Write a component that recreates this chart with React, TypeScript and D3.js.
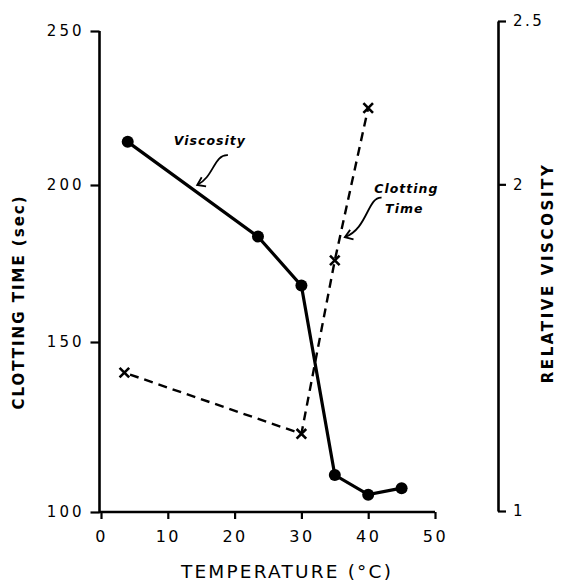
import React, { useEffect, useRef } from 'react';
import * as d3 from 'd3';

// ---- data ----
const tempTicks = [0, 10, 20, 30, 40, 50];
const clotTicks = [100, 150, 200, 250];
const viscTicks = [1, 2, 2.5];
const viscTemp = [4, 23.5, 30, 35, 40, 45];
const viscValue = [2.13, 1.84, 1.69, 1.11, 1.05, 1.07];
const clotTemp = [3.5, 30, 35, 40];
const clotValue = [141, 123, 176, 225];
// annotations: [temp, clotting-time] for label and arrow start/tip
const viscLabel = { text: 'Viscosity', t: 16.3, c: 213 };
const viscArrow = { t0: 19.0, c0: 209.7, t1: 14.4, c1: 200 };
const clotLabel = { lines: ['Clotting', 'Time'], t: 45.7, c: 197.3 };
const clotArrow = { t0: 42.0, c0: 196.0, t1: 36.5, c1: 183.4 };

const W = 564;
const H = 583;

export default function App() {
  const ref = useRef<SVGSVGElement | null>(null);

  useEffect(() => {
    const svg = d3.select(ref.current!);
    svg.selectAll('*').remove();

    const x = d3.scaleLinear().domain([0, 50]).range([101, 435]);
    // hand-drawn axis: tick spacing is not uniform
    const yL = d3.scaleLinear().domain(clotTicks).range([512, 342, 185, 31]);
    const yR = d3.scaleLinear().domain([1, 2.5]).range([511, 21]);

    const tickFont = 'DejaVu Sans, sans-serif';

    // left axis
    const gL = svg.append('g').attr('transform', 'translate(99.5,0)')
      .call(d3.axisLeft(yL).tickValues(clotTicks).tickSize(9).tickSizeOuter(0).tickPadding(6).tickFormat(d3.format('d')));
    // bottom axis
    const gB = svg.append('g').attr('transform', 'translate(0,512)')
      .call(d3.axisBottom(x).tickValues(tempTicks).tickSize(7).tickSizeOuter(0).tickPadding(12).tickFormat(d3.format('d')));
    // right axis
    const gR = svg.append('g').attr('transform', 'translate(498,0)')
      .call(d3.axisRight(yR).tickValues(viscTicks).tickSize(8).tickSizeOuter(0).tickPadding(7).tickFormat((d: any) => String(d)));

    [gL, gB, gR].forEach((g) => {
      g.selectAll('path.domain').attr('stroke', '#000').attr('stroke-width', 2.6);
      g.selectAll('.tick line').attr('stroke', '#000').attr('stroke-width', 2.2);
      g.selectAll('.tick text')
        .attr('fill', '#000')
        .style('font-family', tickFont)
        .style('font-size', '15px')
        .style('letter-spacing', '3px');
    });
    gB.selectAll('.tick text').style('font-size', '16px').style('letter-spacing', '2.5px');
    gL.select('path.domain').attr('d', `M0,${yL(100) + 1}V${yL(250)}`);
    gB.select('path.domain').attr('d', `M${-2 + x(0)},0H${x(50)}`);
    gR.selectAll('.tick text').style('font-size', '15px').style('letter-spacing', '2.5px');

    // axis titles
    svg.append('text')
      .attr('x', 287).attr('y', 578)
      .attr('text-anchor', 'middle')
      .style('font-family', tickFont).style('font-size', '18.5px').style('letter-spacing', '2.2px')
      .text('TEMPERATURE (°C)');
    svg.append('text')
      .attr('transform', 'translate(24,302) rotate(-90)')
      .attr('text-anchor', 'middle')
      .style('font-family', tickFont).style('font-size', '15px').style('font-weight', 'bold').style('letter-spacing', '2px')
      .text('CLOTTING TIME (sec)');
    svg.append('text')
      .attr('transform', 'translate(553,273) rotate(-90)')
      .attr('text-anchor', 'middle')
      .style('font-family', tickFont).style('font-size', '15px').style('font-weight', 'bold').style('letter-spacing', '2.6px')
      .text('RELATIVE VISCOSITY');

    // viscosity series
    const viscPts = viscTemp.map((t, i) => [x(t), yR(viscValue[i])] as [number, number]);
    svg.append('path')
      .attr('d', d3.line()(viscPts)!)
      .attr('fill', 'none').attr('stroke', '#000').attr('stroke-width', 3.2);
    svg.selectAll('circle.v').data(viscPts).enter().append('circle')
      .attr('class', 'v')
      .attr('cx', (d) => d[0]).attr('cy', (d) => d[1]).attr('r', 6).attr('fill', '#000');

    // clotting series
    const clotPts = clotTemp.map((t, i) => [x(t), yL(clotValue[i])] as [number, number]);
    svg.append('path')
      .attr('d', d3.line()(clotPts)!)
      .attr('fill', 'none').attr('stroke', '#000').attr('stroke-width', 2.4)
      .attr('stroke-dasharray', '9,6').attr('stroke-dashoffset', -6);
    const s = 4.8;
    svg.selectAll('path.x').data(clotPts).enter().append('path')
      .attr('class', 'x')
      .attr('d', (d) => `M${d[0] - s},${d[1] - s}L${d[0] + s},${d[1] + s}M${d[0] + s},${d[1] - s}L${d[0] - s},${d[1] + s}`)
      .attr('stroke', '#000').attr('stroke-width', 2.6).attr('fill', 'none');

    // annotations
    const annFont = 'DejaVu Sans, sans-serif';
    svg.append('text')
      .attr('x', x(viscLabel.t)).attr('y', yL(viscLabel.c))
      .attr('text-anchor', 'middle')
      .style('font-family', annFont).style('font-size', '12.5px').style('font-style', 'italic').style('font-weight', 'bold')
      .style('letter-spacing', '1px')
      .text(viscLabel.text);
    clotLabel.lines.forEach((ln, i) => {
      svg.append('text')
        .attr('x', x(clotLabel.t) + (i === 1 ? -2 : 0)).attr('y', yL(clotLabel.c) + i * 20)
        .attr('text-anchor', 'middle')
        .style('font-family', annFont).style('font-size', '12.5px').style('font-style', 'italic').style('font-weight', 'bold')
        .style('letter-spacing', '1px')
        .text(ln);
    });

    const drawArrow = (a: { t0: number; c0: number; t1: number; c1: number }) => {
      const x0 = x(a.t0), y0 = yL(a.c0), x1 = x(a.t1), y1 = yL(a.c1);
      const c1x = x0 - 14, c1y = y0 - 1;
      const c2x = x0 - 14, c2y = y1 - 8;
      const p = d3.path();
      p.moveTo(x0, y0);
      p.bezierCurveTo(c1x, c1y, c2x, c2y, x1, y1);
      svg.append('path').attr('d', p.toString())
        .attr('fill', 'none').attr('stroke', '#000').attr('stroke-width', 1.8);
      const ang = Math.atan2(y1 - c2y, x1 - c2x);
      const L = 9;
      const b1 = ang + Math.PI - 0.6, b2 = ang + Math.PI + 0.6;
      svg.append('path')
        .attr('d', `M${x1 + L * Math.cos(b1)},${y1 + L * Math.sin(b1)}L${x1},${y1}L${x1 + L * Math.cos(b2)},${y1 + L * Math.sin(b2)}`)
        .attr('fill', 'none').attr('stroke', '#000').attr('stroke-width', 1.8);
    };
    drawArrow(viscArrow);
    drawArrow(clotArrow);
  }, []);

  return (
    <svg ref={ref} width={W} height={H} viewBox={`0 0 ${W} ${H}`}
      style={{ position: 'absolute', left: 0, top: 0, background: '#fff' }} />
  );
}
